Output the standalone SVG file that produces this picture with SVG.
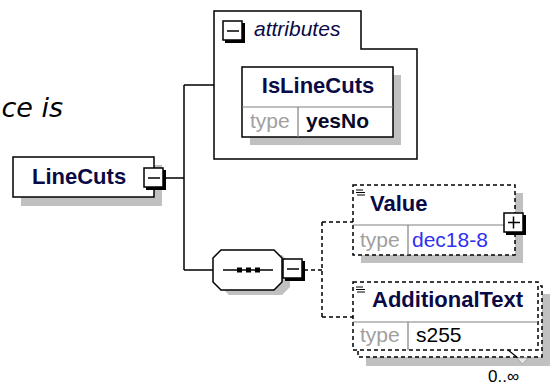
<svg xmlns="http://www.w3.org/2000/svg" width="552" height="387" viewBox="0 0 552 387">
<style>
.bg{fill:#fff}
.sh{fill:#c0c0c0}
.box{fill:#fff;stroke:#000;stroke-width:1.5}
.dbox{fill:#fff;stroke:#000;stroke-width:1.5;stroke-dasharray:4 3}
.div{stroke:#808080;stroke-width:1.2;fill:none}
.ln{stroke:#000;stroke-width:1.5;fill:none}
.dln{stroke:#000;stroke-width:1.5;fill:none;stroke-dasharray:4 3}
.exp{fill:#fff;stroke:#000;stroke-width:1.5}
.exps{stroke:#000;stroke-width:3;fill:none}
.name{font-family:"Liberation Sans",Arial,sans-serif;font-weight:bold;font-size:22px;fill:#0a0a46}
.lbl{font-family:"Liberation Sans",Arial,sans-serif;font-size:21px;fill:#a0a0a0}
.val{font-family:"Liberation Sans",Arial,sans-serif;font-size:21px;fill:#000}
.valb{font-family:"Liberation Sans",Arial,sans-serif;font-size:21px;font-weight:bold;fill:#0a0a28}
.blue{fill:#3030f0}
.ital{font-family:"Liberation Sans",Arial,sans-serif;font-style:italic;font-size:21px;fill:#0a0a46}
.icon{stroke:#000;stroke-width:1;fill:none}
</style>
<defs>
<marker id="ah" viewBox="0 0 6 6" refX="5" refY="3" markerWidth="4.5" markerHeight="4.5" orient="auto">
<path d="M0,0 L6,3 L0,6 z" fill="#000"/>
</marker>
</defs>
<rect class="bg" x="0" y="0" width="552" height="387"/>

<text x="63" y="117" text-anchor="end" style="font-family:'DejaVu Sans',Verdana,sans-serif;font-style:italic;font-size:27px;fill:#000">ce is</text>

<g id="connectors">
<path class="ln" d="M166,178 H184 M184,85 V270 M184,85 H214 M184,270 H213"/>
<path class="dln" d="M304,270 H322 M322,222 V317 M322,222 H357 M322,317 H357"/>
<path class="ln" d="M357,222 L363,216" marker-end="url(#ah)"/>
<path class="ln" d="M357,317 L363,311" marker-end="url(#ah)"/>
</g>

<g id="LineCuts">
<rect class="sh" x="21" y="165" width="141" height="41"/>
<rect class="box" x="13" y="157" width="141" height="40"/>
<text class="name" x="32" y="184">LineCuts</text>
<rect class="exp" x="144" y="168" width="19" height="19"/>
<path class="exps" d="M164.5,170 V188.5 H146"/>
<path class="ln" d="M148,178 H160"/>
</g>

<g id="attributes">
<path class="box" d="M214,11 H361 V49 H417 V159 H214 Z"/>
<rect class="exp" x="223" y="21" width="19" height="19"/>
<path class="exps" d="M243.5,23 V41.5 H225"/>
<path class="ln" d="M227,31 H239"/>
<text class="ital" x="254" y="36">attributes</text>
</g>

<g id="IsLineCuts">
<rect class="sh" x="250" y="75" width="151" height="70"/>
<rect class="box" x="242" y="67" width="151" height="70"/>
<path class="div" d="M242,107 H393 M298,107 V137"/>
<text class="name" x="318" y="93" text-anchor="middle">IsLineCuts</text>
<text class="lbl" x="250" y="128">type</text>
<text class="valb" x="306" y="128">yesNo</text>
</g>

<g id="sequence">
<polygon class="sh" points="229,255 282,255 290,263 290,287 282,295 229,295 221,287 221,263"/>
<polygon class="box" points="221,250 274,250 282,258 282,282 274,290 221,290 213,282 213,258"/>
<path class="ln" d="M223,270 H273"/>
<rect x="237" y="267.5" width="5" height="5" fill="#000"/>
<rect x="246" y="267.5" width="5" height="5" fill="#000"/>
<rect x="255" y="267.5" width="5" height="5" fill="#000"/>
<rect class="exp" x="283" y="259" width="19" height="19"/>
<path class="exps" d="M303.5,261 V279.5 H285"/>
<path class="ln" d="M287,269 H299"/>
</g>

<g id="Value">
<rect class="sh" x="361" y="193" width="162" height="70"/>
<rect class="dbox" x="353" y="185" width="162" height="70"/>
<path class="div" d="M353,225 H515 M408,225 V255"/>
<path class="icon" d="M356,190 H363 M356,192.5 H365 M357,195 H365"/>
<text class="name" x="370" y="211">Value</text>
<text class="lbl" x="360" y="247">type</text>
<text class="val blue" x="412" y="247">dec18-8</text>
<rect class="exp" x="504" y="213" width="19" height="19"/>
<path class="exps" d="M524.5,215 V233.5 H506"/>
<path class="ln" d="M508,222.5 H520 M513.5,216.5 V228.5"/>
</g>

<g id="AdditionalText">
<rect class="sh" x="366" y="294" width="184" height="72"/>
<rect class="dbox" x="358" y="286" width="184" height="71"/>
<rect class="dbox" x="353" y="282" width="185" height="68"/>
<path class="div" d="M353,322 H538 M408,322 V350"/>
<path class="icon" d="M356,287 H363 M356,289.5 H365 M357,292 H365"/>
<text class="name" x="372" y="307">AdditionalText</text>
<text class="lbl" x="360" y="342">type</text>
<text class="val" x="416" y="342">s255</text>
<path d="M508,350 L518,358" stroke="#000" stroke-width="1.2" fill="none"/>
<polygon points="517,358 528,358 522.5,364" fill="#e8e8e8" stroke="#a0a0a0" stroke-width="0.8"/>
<text x="488" y="382" style="font-family:'Liberation Sans',Arial,sans-serif;font-size:17px;fill:#000">0..∞</text>
</g>
</svg>
